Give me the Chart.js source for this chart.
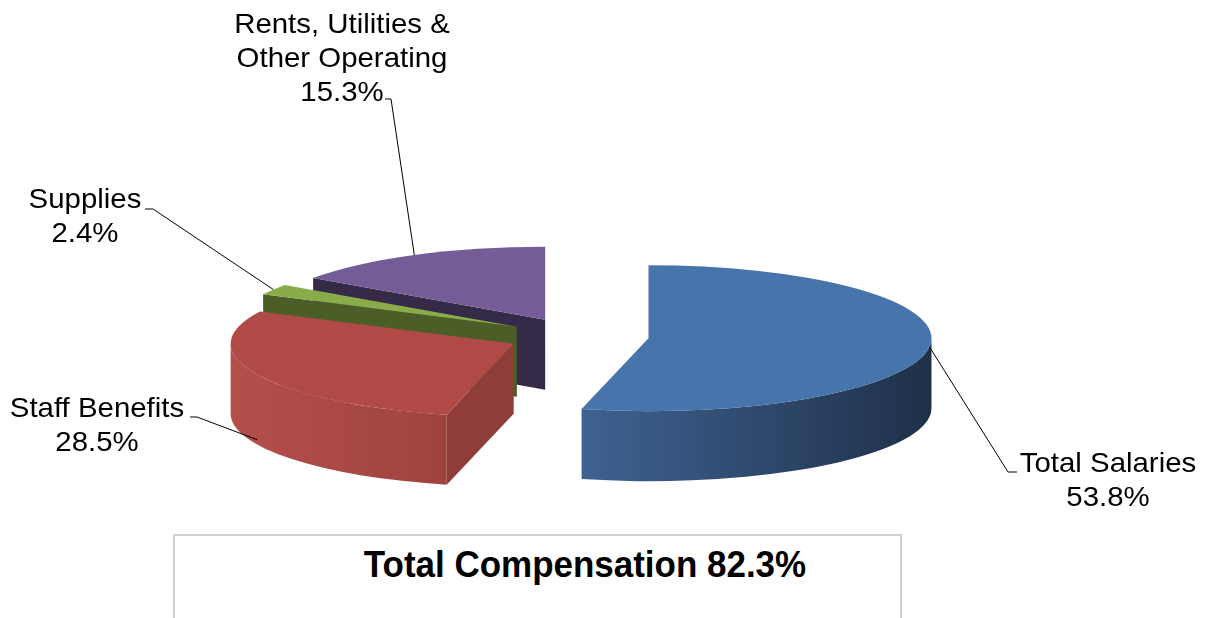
<!DOCTYPE html>
<html>
<head>
<meta charset="utf-8">
<title>Expense breakdown</title>
<script src="https://cdn.jsdelivr.net/npm/chart.js@4.4.1/dist/chart.umd.min.js"></script>
<style>
  html, body { margin: 0; padding: 0; background: #fff; }
  #wrap { position: relative; width: 1214px; height: 618px; overflow: hidden; }
  #note {
    position: absolute; left: 173px; top: 534px; width: 729px; height: 120px;
    border: 2px solid #d0d0d0; box-sizing: border-box; background: #fff;
  }
  #noteText {
    position: absolute; left: 335px; width: 500px; top: 544px; line-height: 37px;
    text-align: center; color: #000; transform: scaleX(0.945);
    font: bold 37px "Liberation Sans", Arial, sans-serif;
  }
</style>
</head>
<body>
<div id="wrap">
  <canvas id="pieChart" width="1214" height="618"></canvas>
  <div id="note"></div>
  <div id="noteText">Total Compensation 82.3%</div>
</div>

<script>
// Expense shares
const categories = ['Total Salaries', 'Staff Benefits', 'Supplies', 'Rents, Utilities & Other Operating'];
const labelLines = [['Total Salaries'], ['Staff Benefits'], ['Supplies'], ['Rents, Utilities &', 'Other Operating']];
const shares = [53.8, 28.5, 2.4, 15.3];

// Colours: top face, outer side (left -> right), cut wall
const topColors = ['#4774ab', '#af4a47', '#8aab4a', '#745c97'];
const sideColors = [['#3f6292', '#1f3049'], ['#b44f4b', '#a0433f'], ['#5a7030', '#4a5e27'], ['#3a2e4e', '#342946']];
const wallColors = ['#2a4266', '#8f3d39', '#4b5e27', '#352a47'];

// Where each label sits (centre x, first baseline) and its leader elbow
const labelPlace = [
    { x: 1108, y: 472, depth: 0, elbow: [1008, 472], end: [1017, 472] },
    { x: 97, y: 417, depth: 0.93, elbow: [197, 417], end: [190, 417] },
    { x: 85, y: 208, depth: 0, elbow: [153, 209], end: [145, 209] },
    { x: 342, y: 33, depth: 0, elbow: [391, 99], end: [385, 99] }
];

function pt(s, th, r, z, k) {
    return [s.cx + r * Math.cos(th), s.cy + k * r * Math.sin(th) + z];
}

function drawSlice(ctx, s, k, D) {
    const a = s.arc;
    const R = s.R;

    // cut walls that face the viewer
    [[a.startAngle, -Math.cos(a.startAngle)], [a.endAngle, Math.cos(a.endAngle)]].forEach(([th, face]) => {
        if (face <= 0.001) return;
        const p0 = pt(s, th, 0, 0, k);
        const p1 = pt(s, th, R, 0, k);
        ctx.beginPath();
        ctx.moveTo(p0[0], p0[1]);
        ctx.lineTo(p1[0], p1[1]);
        ctx.lineTo(p1[0], p1[1] + D);
        ctx.lineTo(p0[0], p0[1] + D);
        ctx.closePath();
        ctx.fillStyle = wallColors[s.i];
        ctx.fill();
    });

    // outer side, front half only
    const a0 = Math.max(a.startAngle, 0);
    const b0 = Math.min(a.endAngle, Math.PI);
    if (a0 < b0) {
        ctx.beginPath();
        ctx.ellipse(s.cx, s.cy, R, k * R, 0, a0, b0, false);
        ctx.ellipse(s.cx, s.cy + D, R, k * R, 0, b0, a0, true);
        ctx.closePath();
        const g = ctx.createLinearGradient(s.cx + R * Math.cos(b0), 0, s.cx + R * Math.cos(a0), 0);
        g.addColorStop(0, sideColors[s.i][0]);
        g.addColorStop(1, sideColors[s.i][1]);
        ctx.fillStyle = g;
        ctx.fill();
    }

    // top face
    ctx.beginPath();
    ctx.moveTo(s.cx, s.cy);
    ctx.ellipse(s.cx, s.cy, R, k * R, 0, a.startAngle, a.endAngle, false);
    ctx.closePath();
    ctx.fillStyle = topColors[s.i];
    ctx.fill();
}

const pie3d = {
    id: 'pie3d',
    beforeDatasetsDraw(chart, args, opts) {
        const ctx = chart.ctx;
        const k = opts.tilt, D = opts.depth, E = opts.explode;
        const slices = chart.getDatasetMeta(0).data.map((arc, i) => {
            const mid = (arc.startAngle + arc.endAngle) / 2;
            return {
                i, arc, mid, R: arc.outerRadius,
                cx: arc.x + E * Math.cos(mid),
                cy: arc.y + k * E * Math.sin(mid)
            };
        });

        ctx.save();
        slices.slice()
            .sort((p, q) => Math.sin(p.mid) - Math.sin(q.mid))
            .forEach(s => drawSlice(ctx, s, k, D));

        // leader lines and labels
        ctx.strokeStyle = '#000';
        ctx.lineWidth = 1;
        ctx.fillStyle = '#000';
        ctx.font = '28px "Liberation Sans", Arial, sans-serif';
        ctx.textAlign = 'center';
        ctx.textBaseline = 'alphabetic';
        slices.forEach(s => {
            const lp = labelPlace[s.i];
            const p = pt(s, s.mid, s.R, lp.depth * D, k);
            ctx.beginPath();
            ctx.moveTo(p[0], p[1]);
            ctx.lineTo(lp.elbow[0], lp.elbow[1]);
            ctx.lineTo(lp.end[0], lp.end[1]);
            ctx.stroke();

            const lines = labelLines[s.i].concat([shares[s.i].toFixed(1) + '%']);
            lines.forEach((txt, j) => {
                ctx.save();
                ctx.translate(lp.x, lp.y + j * 34);
                ctx.scale(opts.textStretch, 1);
                ctx.fillText(txt, 0, 0);
                ctx.restore();
            });
        });
        ctx.restore();
        return false;
    }
};

new Chart(document.getElementById('pieChart'), {
    type: 'pie',
    data: {
        labels: categories,
        datasets: [{
            data: shares,
            backgroundColor: topColors,
            borderWidth: 0
        }]
    },
    options: {
        responsive: false,
        animation: false,
        events: [],
        radius: 283,
        layout: { padding: { left: 0, right: 58, top: 54, bottom: 0 } },
        plugins: {
            legend: { display: false },
            tooltip: { enabled: false },
            pie3d: { tilt: 0.258, depth: 70, explode: 71, textStretch: 1.05 }
        }
    },
    plugins: [pie3d]
});
</script>
</body>
</html>
